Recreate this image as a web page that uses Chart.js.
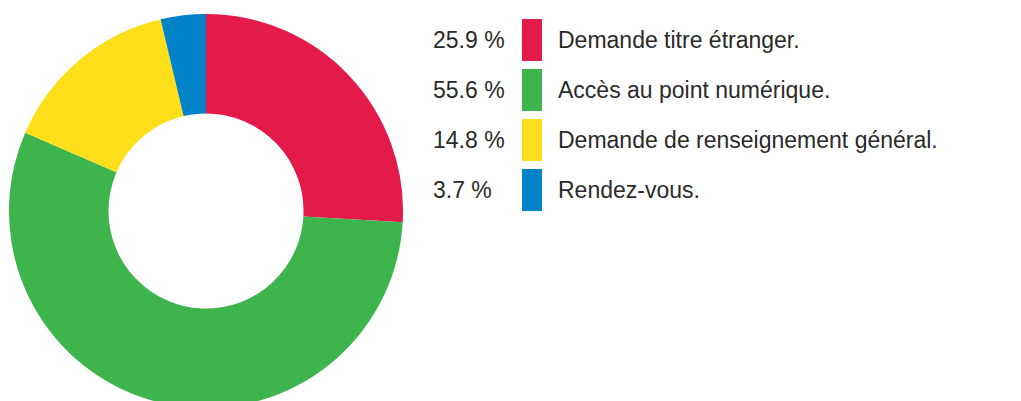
<!DOCTYPE html>
<html>
<head>
<meta charset="utf-8">
<script src="https://cdn.jsdelivr.net/npm/chart.js@4/dist/chart.umd.min.js"></script>
<style>
    body { margin: 0; width: 1021px; height: 401px; overflow: hidden; background: #fff; position: relative; }
    #donut-box { position: absolute; left: 9px; top: 14px; width: 394px; height: 394px; }
    #legende { position: absolute; left: 433px; top: 19px; font-family: "Liberation Sans", Arial, sans-serif; font-size: 23px; color: #2a2a2a; }
    .linha { position: relative; height: 42px; margin-bottom: 8px; }
    .pct { position: absolute; left: 0; top: 0; line-height: 42px; white-space: nowrap; }
    .caixa { position: absolute; left: 89px; top: 0; width: 20px; height: 42px; }
    .rotulo { position: absolute; left: 125px; top: 0; line-height: 42px; white-space: nowrap; }
</style>
</head>
<body>
<div id="donut-box"><canvas id="donut"></canvas></div>
<div id="legende"></div>
<script>
// dados do grafico
const categorias = ['Demande titre étranger.', 'Accès au point numérique.', 'Demande de renseignement général.', 'Rendez-vous.'];
const valores = [25.9, 55.6, 14.8, 3.7];
const cores = ['#e41b4a', '#3db44c', '#ffdf1a', '#0082c8'];

// monta a legenda ao lado
const legende = document.getElementById('legende');
for (let i = 0; i < categorias.length; i++) {
    legende.innerHTML += `
        <div class="linha">
            <span class="pct">${valores[i].toFixed(1)} %</span>
            <span class="caixa" style="background:${cores[i]}"></span>
            <span class="rotulo">${categorias[i]}</span>
        </div>`;
}

const ctx = document.getElementById('donut').getContext('2d');
new Chart(ctx, {
    type: 'doughnut',
    data: {
        labels: categorias,
        datasets: [{
            data: valores,
            backgroundColor: cores,
            borderWidth: 0
        }]
    },
    options: {
        responsive: true,
        maintainAspectRatio: false,
        animation: false,
        cutout: '49.5%',
        layout: { padding: 0 },
        plugins: {
            legend: { display: false },
            tooltip: { enabled: false }
        }
    }
});
</script>
</body>
</html>
